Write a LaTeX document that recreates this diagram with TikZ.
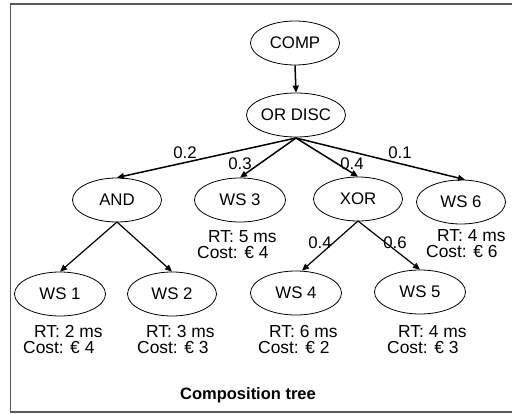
\documentclass[tikz,border=0pt]{standalone}
\usepackage{fontspec}
\setmainfont{Liberation Sans}
\usetikzlibrary{shapes.geometric,arrows.meta}
\begin{document}
\begin{tikzpicture}[x=1pt,y=-1pt,
  every node/.style={font=\fontsize{16.8}{17}\selectfont},
  ell/.style={draw, ellipse, line width=0.8pt, minimum width=89pt, minimum height=44pt, inner sep=0pt},
  edge/.style={line width=1.5pt, -{Triangle[length=7pt,width=6pt]}},
  plab/.style={inner sep=0pt},
  info/.style={align=left, inner sep=0pt, font=\fontsize{17.4}{16.5}\selectfont}]
\useasboundingbox (0,0) rectangle (512,414);
\draw[line width=1.2pt, gray!70!black] (512,4) -- (10.5,4) -- (10.5,412) -- (512,412);

\node[ell] (comp) at (295,43) {COMP};
\node[ell, minimum width=91pt] (or) at (296,115) {OR DISC};
\node[ell] (and) at (117,200) {AND};
\node[ell, minimum width=91pt] (ws3) at (240,200) {WS 3};
\node[ell] (xor) at (358,199) {XOR};
\node[ell] (ws6) at (461,202) {WS 6};
\node[ell, minimum width=91pt] (ws1) at (60,294) {WS 1};
\node[ell] (ws2) at (172,294) {WS 2};
\node[ell, minimum width=91pt] (ws4) at (296,293) {WS 4};
\node[ell, minimum width=91pt] (ws5) at (420,292) {WS 5};

\coordinate (orb) at (296,138);
\coordinate (andb) at (117,222);
\coordinate (xorb) at (358,221);

\draw[edge] (comp.south) -- (or.north);
\draw[edge] (orb) -- (and.north);
\draw[edge] (orb) -- (ws3.north);
\draw[edge] (orb) -- (xor.north);
\draw[edge] (orb) -- ([xshift=4pt]ws6.north);
\draw[edge, line width=1.2pt] (andb) -- (ws1.north);
\draw[edge, line width=1.2pt] (andb) -- (ws2.north);
\draw[edge, line width=1.2pt] (xorb) -- ([xshift=6pt]ws4.north);
\draw[edge, line width=1.2pt] (xorb) -- (ws5.north);

\node[plab] (p02) at (185,153) {0.2};
\node[plab] (p03) at (240,164) {0.3};
\node[plab] (p04) at (352,164) {0.4};
\node[plab] (p01) at (400,153) {0.1};
\node[plab] (p04b) at (320,243) {0.4};
\node[plab] (p06) at (395,243) {0.6};

\node[info, anchor=north west] (i3) at (197,230) {\hspace*{11pt}RT: 5 ms\\Cost: € 4};
\node[info, anchor=north west] (i6) at (426,229) {\hspace*{11pt}RT: 4 ms\\Cost: € 6};
\node[info, anchor=north west] (i1) at (23,325) {\hspace*{11pt}RT: 2 ms\\Cost: € 4};
\node[info, anchor=north west] (i2) at (137,325) {\hspace*{9pt}RT: 3 ms\\Cost: € 3};
\node[info, anchor=north west] (i4) at (258,325) {\hspace*{11pt}RT: 6 ms\\Cost: € 2};
\node[info, anchor=north west] (i5) at (387,325) {\hspace*{11pt}RT: 4 ms\\Cost: € 3};

\node[inner sep=0pt, font=\fontsize{16.5}{17}\bfseries\selectfont] (title) at (248,395) {Composition tree};
\end{tikzpicture}
\end{document}
